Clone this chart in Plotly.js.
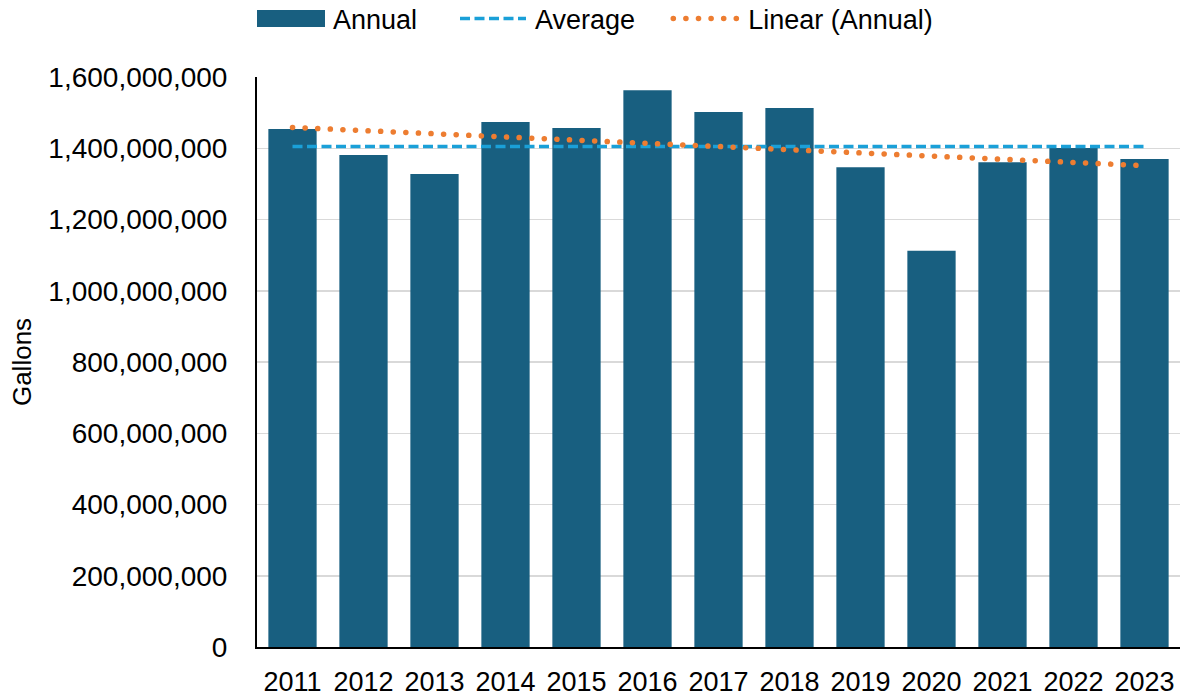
<!DOCTYPE html>
<html>
<head>
<meta charset="utf-8">
<script src="https://cdn.plot.ly/plotly-3.0.1.min.js"></script>
<style>
  html, body { margin: 0; padding: 0; background: #fff; }
  #chart { width: 1187px; height: 698px; }
  .trend-dots path.js-line { stroke-linecap: round; }
</style>
</head>
<body>
<div id="chart"></div>
<script>
const years = ['2011','2012','2013','2014','2015','2016','2017','2018','2019','2020','2021','2022','2023'];
const annual = [1454000000, 1381000000, 1328000000, 1474000000, 1457000000, 1563000000, 1502000000,
                1513000000, 1347000000, 1112000000, 1361000000, 1401000000, 1370000000];
const yTicks = [0, 200000000, 400000000, 600000000, 800000000, 1000000000, 1200000000, 1400000000, 1600000000];
const yTickText = ['0','200,000,000','400,000,000','600,000,000','800,000,000','1,000,000,000','1,200,000,000','1,400,000,000','1,600,000,000'];

// Derived series: average and least-squares linear trend of the annual values
const n = annual.length;
const mean = annual.reduce((a, b) => a + b, 0) / n;
const xm = (n - 1) / 2;
let sxy = 0, sxx = 0;
annual.forEach((v, i) => { sxy += (i - xm) * (v - mean); sxx += (i - xm) * (i - xm); });
const slope = sxy / sxx;
const average = annual.map(() => mean);
const trend = annual.map((_, i) => mean + slope * (i - xm));

const font = 'Liberation Sans, Arial, sans-serif';
const data = [
  { type: 'bar', name: 'Annual', x: years, y: annual, marker: { color: '#185f80' }, hoverinfo: 'x+y' },
  { type: 'scatter', mode: 'lines', name: 'Average', x: years, y: average,
    line: { color: '#1aa0d8', width: 3.5, dash: '10px,4.5px' } },
  { type: 'scatter', mode: 'lines', name: 'Linear (Annual)', x: years, y: trend,
    line: { color: '#ed7d31', width: 5.5, dash: '0.1px,12.5px' } }
];
const layout = {
  width: 1187, height: 698,
  margin: { l: 257, r: 7, t: 77, b: 51 },
  paper_bgcolor: '#fff', plot_bgcolor: '#fff',
  bargap: 0.32,
  showlegend: true,
  legend: { orientation: 'h', xref: 'container', yref: 'container', x: 0.186, xanchor: 'left', y: 1, yanchor: 'top',
            font: { family: font, size: 27, color: '#000' }, itemwidth: 98, tracegroupgap: 0 },
  xaxis: { type: 'category', tickfont: { family: font, size: 27, color: '#000' }, showline: true, linecolor: '#000', linewidth: 2,
           ticks: '', ticklabelstandoff: 10, fixedrange: true },
  yaxis: { range: [0, 1600000000], tickvals: yTicks, ticktext: yTickText, tickfont: { family: font, size: 28, color: '#000' },
           showgrid: true, gridcolor: '#d9d9d9', gridwidth: 1.5, showline: true, linecolor: '#000', linewidth: 2,
           zeroline: false, ticks: '', ticklabelstandoff: 22,
           title: { text: 'Gallons', font: { family: font, size: 26, color: '#000' }, standoff: 9 } }
};
Plotly.newPlot('chart', data, layout, { displayModeBar: false, staticPlot: true }).then(() => {
  const traces = document.querySelectorAll('.scatterlayer .trace');
  if (traces.length >= 2) traces[1].classList.add('trend-dots');
  // let moved legend items show in full
  document.querySelectorAll('.legend [clip-path]').forEach(el => el.removeAttribute('clip-path'));
  const lg = document.querySelector('.legend');
  if (lg) lg.removeAttribute('clip-path');
  // long legend swatches and item placement as in the reference
  const symbolStart = [257, 460, 676];
  const textCenterY = 20;
  const items = document.querySelectorAll('.legend .traces');
  items.forEach((it, k) => {
    let p;
    if (k === 0) {
      p = it.querySelector('.legendpoints path');
      if (p) { p.setAttribute('transform', 'translate(0,0)'); p.setAttribute('d', 'M32,-8.5h68v17h-68Z'); }
    } else {
      p = it.querySelector('.legendpoints path.js-line') || it.querySelector('.legendlines path');
      if (p) { p.setAttribute('d', 'M33,0h66'); if (k === 2) p.style.strokeLinecap = 'round'; }
    }
    if (!p) return;
    const txt = it.querySelector('text.legendtext');
    const pr = p.getBoundingClientRect();
    const sw = k === 2 ? 2.75 : 0;
    const dx = symbolStart[k] - (pr.left + sw);
    let dy = 0;
    if (txt) { const tr = txt.getBoundingClientRect(); dy = textCenterY - (tr.top + tr.height / 2); }
    const m = /translate\(\s*([-\d.eE]+)[ ,]+([-\d.eE]+)\s*\)/.exec(it.getAttribute('transform') || '');
    const x0 = m ? parseFloat(m[1]) : 0, y0 = m ? parseFloat(m[2]) : 0;
    it.setAttribute('transform', 'translate(' + (x0 + dx) + ',' + (y0 + dy) + ')');
  });
});
</script>
</body>
</html>
